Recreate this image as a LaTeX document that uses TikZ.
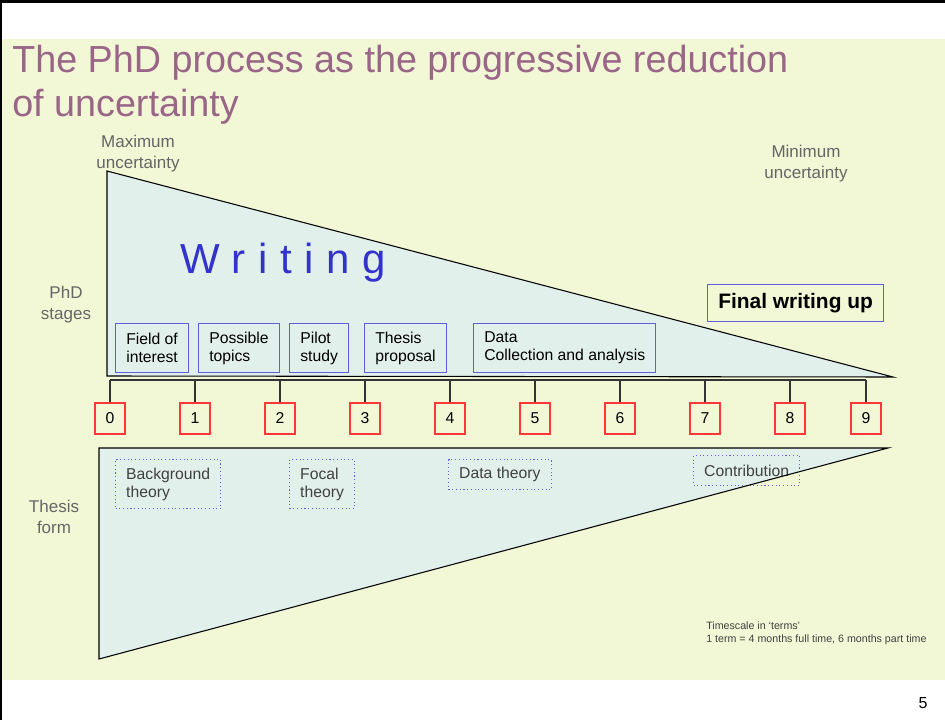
\documentclass[tikz,border=0pt]{standalone}
\usepackage{fontspec}
\setmainfont{Liberation Sans}
\usepackage{xcolor}
\usepackage{tikz}
\usetikzlibrary{calc}

\definecolor{slidebg}{RGB}{242,247,214}
\definecolor{wedgefill}{RGB}{226,240,235}
\definecolor{titlepurple}{RGB}{153,102,136}
\definecolor{writeblue}{RGB}{51,51,204}
\definecolor{boxblue}{RGB}{95,95,220}
\definecolor{termred}{RGB}{255,55,55}
\definecolor{labelgray}{RGB}{102,102,102}
\definecolor{formgray}{RGB}{64,64,64}

\tikzset{
  sidelabel/.style={text=labelgray, align=center, inner sep=0pt, font=\fontsize{12.75}{15.75}\selectfont},
  stagebox/.style={draw=boxblue, line width=0.9pt, align=left, anchor=north west, inner xsep=8pt, minimum height=36.75pt, font=\fontsize{11.8}{13.5}\selectfont},
  formbox/.style={draw=boxblue, dotted, line width=0.8pt, align=left, anchor=north west, inner xsep=8pt, text=formgray, font=\fontsize{11.8}{13.5}\selectfont},
  termbox/.style={draw=termred, line width=0.9pt, minimum width=22.5pt, minimum height=23.25pt, inner sep=0pt, font=\fontsize{11.8}{13.5}\selectfont},
  wedge/.style={draw=black, line width=0.8pt},
  timeline/.style={draw=black!80, line width=0.8pt}
}

\begin{document}
\begin{tikzpicture}[x=0.75pt, y=-0.75pt]
\useasboundingbox (0,0) rectangle (945,720);
\fill[white] (0,0) rectangle (945,720);
\fill[slidebg] (2,39) rectangle (945,680);
\fill[black] (0,0) rectangle (945,3);
\fill[black] (0,0) rectangle (2,720);

\node[anchor=north west, inner sep=0pt, align=left, text=titlepurple, font=\fontsize{28.3}{33}\selectfont] (title) at (12,45) {The PhD process as the progressive reduction\\of uncertainty};

\filldraw[wedge, fill=wedgefill] (107,171) -- (107,376) -- (893,377) -- cycle;
\fill[wedgefill] (99,448) -- (888,448) -- (99,659) -- cycle;

\node[sidelabel, anchor=north] (maxu) at (138,135) {Maximum\\uncertainty};
\node[sidelabel, anchor=north] (minu) at (806,145) {Minimum\\uncertainty};
\node[sidelabel, anchor=north] (stages) at (66,286) {PhD\\stages};
\node[sidelabel, anchor=north] (form) at (54,500) {Thesis\\form};

\node[anchor=base west, inner sep=0pt, text=writeblue, font=\fontsize{31.5}{34}\selectfont\addfontfeature{LetterSpace=30}] (writing) at (180,273) {Writing};

\node[stagebox] (interest) at (115,323) {Field of\\interest};
\node[stagebox] (topics) at (198,323) {Possible\\topics};
\node[stagebox] (pilot) at (289,323) {Pilot\\study};
\node[stagebox] (proposal) at (364,323) {Thesis\\proposal};
\node[stagebox] (data) at (473,323) {Data\\Collection and analysis};
\node[stagebox, minimum height=27.75pt, font=\fontsize{15.7}{18}\selectfont\bfseries] (final) at (707,284) {Final writing up};

\coordinate (tl) at (0,380);
\foreach \i/\x in {0/110,1/195,2/280,3/365,4/450,5/535,6/620,7/705,8/790,9/866}{
  \node[termbox] (n\i) at (\x,418.5) {\i};
  \draw[timeline] (n\i.north) -- (n\i.north |- tl);
}
\draw[timeline] (n0.north |- tl) -- (n9.north |- tl);

\node[formbox, minimum height=36.75pt] (background) at (115,459) {Background\\theory};
\node[formbox, minimum height=36.75pt] (focal) at (289,459) {Focal\\theory};
\node[formbox, minimum height=22.5pt] (datatheory) at (448,459) {Data theory};
\node[formbox, minimum height=22.5pt] (contribution) at (693,455) {Contribution};

\draw[wedge] (99,448) -- (888,448) -- (99,659) -- cycle;

\node[anchor=north west, inner sep=0pt, align=left, text=formgray, font=\fontsize{8}{9.75}\selectfont] (timescale) at (706,621) {Timescale in `terms'\\1 term = 4 months full time, 6 months part time};
\node[anchor=base, inner sep=0pt, font=\fontsize{12}{14}\selectfont] (page) at (923,708) {5};
\end{tikzpicture}
\end{document}
